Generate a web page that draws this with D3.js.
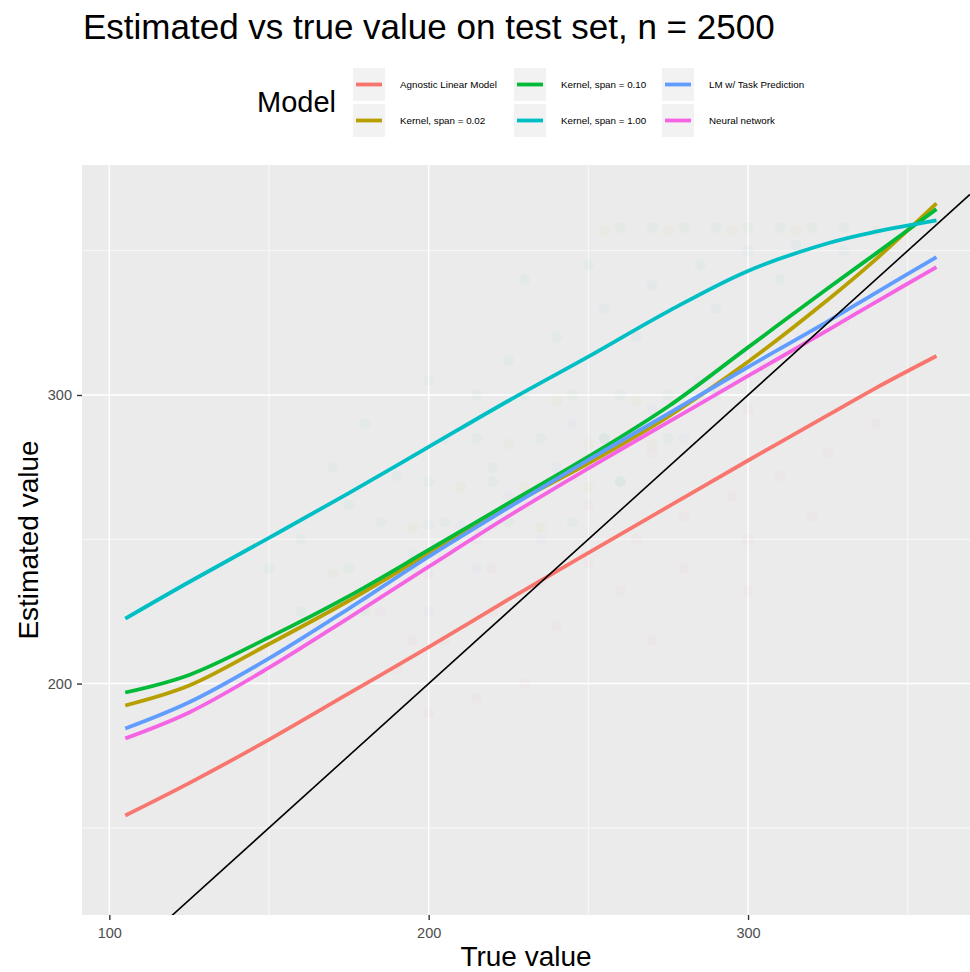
<!DOCTYPE html>
<html>
<head>
<meta charset="utf-8">
<script src="https://d3js.org/d3.v7.min.js"></script>
<style>
  body { margin: 0; background: #fff; }
  text { font-family: "Liberation Sans", Arial, sans-serif; }
</style>
</head>
<body>
<div id="chart"></div>
<script>
// fitted curves
var trueVals = [105, 125, 150, 175, 200, 225, 250, 275, 300, 325, 340, 359];
var agnostic = [154.3, 165.5, 180.6, 196.6, 212.6, 229.2, 245.3, 261.3, 277.3, 293, 302.4, 313.5];
var kern002 = [192.4, 199.3, 213.7, 228.7, 245.1, 261.5, 276.3, 292.5, 311.5, 333, 347, 366.4];
var kern010 = [196.9, 203, 216, 230.3, 246.3, 262.5, 278.6, 296, 316.5, 337, 349, 364.4];
var kern100 = [222.5, 235.2, 250.5, 266, 282, 298, 313.3, 329, 343, 352.6, 356.6, 360.5];
var lmTask = [184.4, 193.5, 208.7, 226, 244, 261, 277.5, 293.5, 309.7, 325.5, 335.4, 347.8];
var neural = [181, 190, 205.5, 222.8, 240.5, 258, 274.6, 290.6, 306.6, 322.5, 332.2, 344.3];

var models = ["Agnostic Linear Model", "Kernel, span = 0.02", "Kernel, span = 0.10",
              "Kernel, span = 1.00", "LM w/ Task Prediction", "Neural network"];
var colors = ["#F8766D", "#B79F00", "#00BA38", "#00BFC4", "#619CFF", "#F564E3"];
var series = [agnostic, kern002, kern010, kern100, lmTask, neural];

// a rough sample of the faint point cloud behind the curves, [true, estimated]
var cloudAgnostic = [[190,205],[205,215],[220,225],[235,235],[250,242],[265,250],[280,258],[295,265],[310,272],[325,280],[240,220],[260,232],[280,240],[300,250],[320,258],[230,200],[215,195],[270,215],[300,232],[340,290],[200,190]];
var cloudK002 = [[255,357],[275,357],[295,357],[315,357],[340,357],[240,298],[265,298],[285,298],[225,283],[250,283],[270,283],[210,268],[230,268],[250,268],[195,254],[215,254],[235,254],[170,238],[190,238],[165,222]];
var cloudK010 = [[260,358],[270,358],[280,358],[290,358],[300,358],[310,358],[320,358],[330,358],[230,300],[245,300],[260,300],[275,300],[290,300],[215,285],[235,285],[255,285],[275,285],[200,270],[220,270],[240,270],[260,270],[185,256],[205,256],[225,256],[245,256],[175,240],[195,240],[160,225],[180,225]];
var cloudK100 = [[160,250],[175,262],[190,272],[205,285],[215,300],[225,312],[240,320],[255,330],[270,338],[285,345],[300,350],[315,352],[330,350],[180,290],[200,305],[170,275],[230,340],[250,345],[200,255],[220,275],[265,320],[290,330],[310,340],[150,240]];
var cloudLM = [[180,230],[195,245],[210,255],[225,265],[240,275],[255,285],[270,295],[285,305],[300,315],[215,240],[235,250],[260,270],[280,285],[200,225],[245,290],[320,330]];
var cloudNN = [[185,225],[200,238],[215,250],[230,262],[245,272],[260,282],[275,292],[290,302],[305,310],[220,240],[250,262],[270,280],[300,295],[195,215],[330,325]];
var clouds = [cloudAgnostic, cloudK002, cloudK010, cloudK100, cloudLM, cloudNN];

var xTicks = [100, 200, 300], xMinor = [150, 250, 350];
var yTicks = [200, 300], yMinor = [150, 250, 350];

var width = 970, height = 972;
var panel = {left: 82, right: 970, top: 165, bottom: 915};

var svg = d3.select("#chart").append("svg")
    .attr("width", width)
    .attr("height", height);

var x = d3.scaleLinear().domain([91.45, 369.5]).range([panel.left, panel.right]);
var y = d3.scaleLinear().domain([119.8, 379.7]).range([panel.bottom, panel.top]);

svg.append("defs").append("clipPath").attr("id", "clip")
  .append("rect")
    .attr("x", panel.left).attr("y", panel.top)
    .attr("width", panel.right - panel.left).attr("height", panel.bottom - panel.top);

svg.append("rect")
    .attr("x", panel.left).attr("y", panel.top)
    .attr("width", panel.right - panel.left).attr("height", panel.bottom - panel.top)
    .attr("fill", "#EBEBEB");

var grid = svg.append("g").attr("stroke", "#fff");
grid.selectAll("line.xmin").data(xMinor).enter().append("line")
    .attr("x1", d => x(d)).attr("x2", d => x(d))
    .attr("y1", panel.top).attr("y2", panel.bottom).attr("stroke-width", 0.7);
grid.selectAll("line.ymin").data(yMinor).enter().append("line")
    .attr("y1", d => y(d)).attr("y2", d => y(d))
    .attr("x1", panel.left).attr("x2", panel.right).attr("stroke-width", 0.7);
grid.selectAll("line.xmaj").data(xTicks).enter().append("line")
    .attr("x1", d => x(d)).attr("x2", d => x(d))
    .attr("y1", panel.top).attr("y2", panel.bottom).attr("stroke-width", 1.4);
grid.selectAll("line.ymaj").data(yTicks).enter().append("line")
    .attr("y1", d => y(d)).attr("y2", d => y(d))
    .attr("x1", panel.left).attr("x2", panel.right).attr("stroke-width", 1.4);

var plot = svg.append("g").attr("clip-path", "url(#clip)");

// points (very faint, like the alpha'd scatter)
clouds.forEach(function(pts, i) {
  plot.append("g").selectAll("circle").data(pts).enter().append("circle")
      .attr("cx", d => x(d[0]))
      .attr("cy", d => y(d[1]))
      .attr("r", 5.5)
      .attr("fill", colors[i])
      .attr("fill-opacity", 0.03);
});

var line = d3.line()
    .x(d => x(d[0]))
    .y(d => y(d[1]))
    .curve(d3.curveCatmullRom.alpha(0.5));

series.forEach(function(vals, i) {
  plot.append("path")
      .datum(trueVals.map((t, j) => [t, vals[j]]))
      .attr("d", line)
      .attr("fill", "none")
      .attr("stroke", colors[i])
      .attr("stroke-width", 3.8);
});

// y = x reference
var diag = x.domain();
plot.append("line")
    .attr("x1", x(diag[0])).attr("y1", y(diag[0]))
    .attr("x2", x(diag[1])).attr("y2", y(diag[1]))
    .attr("stroke", "#000").attr("stroke-width", 1.6);

// axes
var xAxis = svg.append("g")
    .attr("transform", "translate(0," + panel.bottom + ")")
    .call(d3.axisBottom(x).tickValues(xTicks).tickSize(5).tickPadding(8));
var yAxis = svg.append("g")
    .attr("transform", "translate(" + panel.left + ",0)")
    .call(d3.axisLeft(y).tickValues(yTicks).tickSize(5).tickPadding(5));
[xAxis, yAxis].forEach(function(a) {
  a.select(".domain").remove();
  a.selectAll(".tick line").attr("stroke", "#333").attr("stroke-width", 1.4);
  a.selectAll(".tick text").attr("fill", "#4D4D4D")
      .style("font-family", "'Liberation Sans', Arial, sans-serif").style("font-size", "14.5px");
});

svg.append("text")
    .attr("x", (panel.left + panel.right) / 2 - 0).attr("y", 966)
    .attr("text-anchor", "middle")
    .style("font-size", "28px")
    .text("True value");

svg.append("text")
    .attr("transform", "translate(38," + ((panel.top + panel.bottom) / 2) + ") rotate(-90)")
    .attr("text-anchor", "middle")
    .style("font-size", "28px")
    .text("Estimated value");

svg.append("text")
    .attr("x", 83).attr("y", 39)
    .style("font-size", "35px")
    .text("Estimated vs true value on test set, n = 2500");

// legend
var legend = svg.append("g");
legend.append("text")
    .attr("x", 257).attr("y", 112)
    .style("font-size", "29px")
    .text("Model");

var colX = [353, 514, 662];
var rowY = [68, 104];
models.forEach(function(m, i) {
  var cx = colX[Math.floor(i / 2)], cy = rowY[i % 2];
  var g = legend.append("g").attr("transform", "translate(" + cx + "," + cy + ")");
  g.append("rect").attr("width", 32).attr("height", 33).attr("fill", "#F2F2F2");
  g.append("line")
      .attr("x1", 3).attr("x2", 29).attr("y1", 16.5).attr("y2", 16.5)
      .attr("stroke", colors[i]).attr("stroke-width", 3.8);
  g.append("text")
      .attr("x", 47).attr("y", 16.5).attr("dy", "0.35em")
      .style("font-size", "9.8px")
      .text(m);
});
</script>
</body>
</html>
